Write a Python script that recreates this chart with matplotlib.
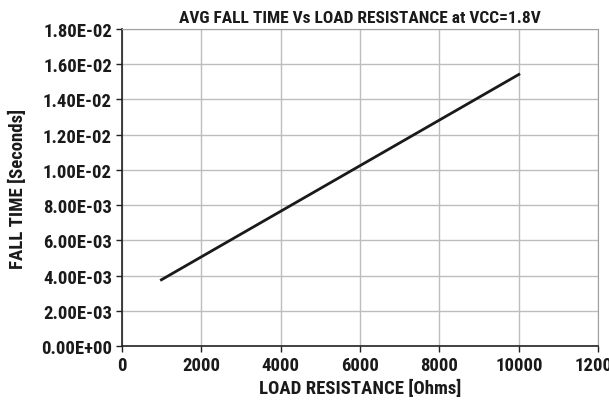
import matplotlib
matplotlib.use('Agg')
import matplotlib.pyplot as plt
from matplotlib import font_manager
from matplotlib.ticker import FuncFormatter

# Data
load_resistance = [1000, 10000]          # Ohms
fall_time = [3.76e-3, 1.542e-2]          # Seconds

x_ticks = [0, 2000, 4000, 6000, 8000, 10000, 12000]
y_ticks = [0, 2e-3, 4e-3, 6e-3, 8e-3, 10e-3, 12e-3, 14e-3, 16e-3, 18e-3]

# condensed bold font if one is around, otherwise plain Liberation Sans
names = set(f.name for f in font_manager.fontManager.ttflist)
fam = 'Liberation Sans'
fs = 12.5
for cand in ['Liberation Sans Narrow', 'DejaVu Sans Condensed', 'Roboto Condensed',
             'Open Sans Condensed']:
    if cand in names:
        fam = cand
        fs = 13.5
        break
plt.rcParams['font.family'] = [fam, 'DejaVu Sans']

fig = plt.figure(figsize=(6.09, 4.06), dpi=100)
ax = fig.add_axes([0.1998, 0.1453, 0.7826, 0.7808])

ax.plot(load_resistance, fall_time, color='#1a1a1a', linewidth=2, zorder=3)

ax.set_xlim(0, 12000)
ax.set_ylim(0, 0.018)
ax.set_xticks(x_ticks)
ax.set_yticks(y_ticks)

def sci(v, pos):
    return '%.2E' % v

ax.yaxis.set_major_formatter(FuncFormatter(sci))

ax.grid(True, color='#bdbdbd', linewidth=1, zorder=0)
for side in ['top', 'right']:
    ax.spines[side].set_color('#a0a0a0')
for side in ['left', 'bottom']:
    ax.spines[side].set_color('#222222')
    ax.spines[side].set_linewidth(1.2)

ax.tick_params(axis='both', length=4, width=1, color='#222222', labelsize=fs,
               labelcolor='#1a1a1a', pad=3)
for lab in ax.get_xticklabels() + ax.get_yticklabels():
    lab.set_fontweight('bold')

ax.set_title('AVG FALL TIME Vs LOAD RESISTANCE at VCC=1.8V', fontsize=fs - 1,
             fontweight='bold', color='#1a1a1a', pad=5)
ax.set_xlabel('LOAD RESISTANCE [Ohms]', fontsize=fs, fontweight='bold',
              color='#1a1a1a', labelpad=4)
ax.set_ylabel('FALL TIME [Seconds]', fontsize=fs, fontweight='bold',
              color='#1a1a1a', labelpad=10)

plt.savefig('out.png', dpi=100)
